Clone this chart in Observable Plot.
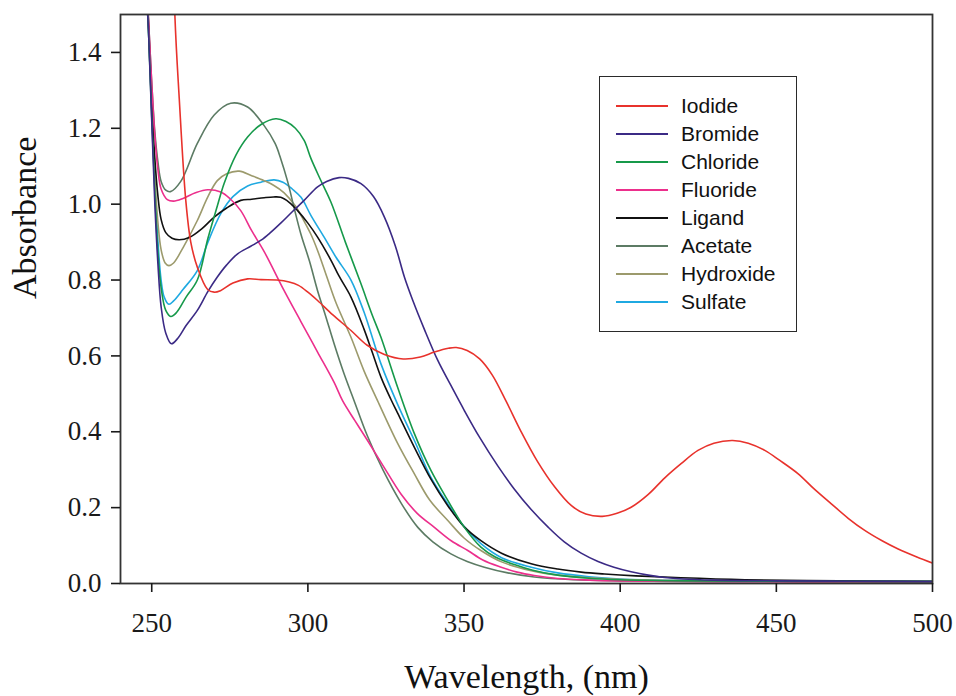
<!DOCTYPE html>
<html>
<head>
<meta charset="utf-8">
<script src="https://cdn.jsdelivr.net/npm/d3@7"></script>
<script src="https://cdn.jsdelivr.net/npm/@observablehq/plot@0.6"></script>
<style>
  html, body { margin: 0; padding: 0; background: #fff; }
  #wrap { position: relative; width: 956px; height: 696px; }
  #wrap svg text { font-family: "Liberation Serif", "Times New Roman", serif !important; font-variant-numeric: normal !important; }
  #legend { position: absolute; box-sizing: border-box; border: 1.6px solid #2a2a2a; background: #fff;
            font-family: "Liberation Sans", Arial, sans-serif; font-size: 21px; color: #111; }
  .row { position: absolute; left: 0; height: 28px; display: flex; align-items: center; }
  .swatch { display: inline-block; width: 52px; height: 0; border-top: 2px solid; margin-left: 16px; margin-right: 13px; }
  #warm { position: absolute; left: 0; top: 0; opacity: 0; font: 27px "Liberation Serif"; pointer-events: none; }
</style>
</head>
<body>
<div id="wrap"></div>
<div id="warm" aria-hidden="true">0123456789.</div>
<script>
// ---- Data (wavelength nm, absorbance) ----
const seriesNames = ["Iodide", "Bromide", "Chloride", "Fluoride", "Ligand", "Acetate", "Hydroxide", "Sulfate"];
const seriesColors = ["#e8322c", "#3b2a85", "#16994a", "#ec2f8c", "#111111", "#5c7b64", "#9c9a6c", "#1fa9e1"];
const xTicks = [250, 300, 350, 400, 450, 500];
const yTicks = [0, 0.2, 0.4, 0.6, 0.8, 1.0, 1.2, 1.4];

const iodide = [[255, 2.3], [257.4, 1.5], [258.8, 1.28], [260.9, 1.01], [262.5, 0.9], [264.6, 0.834], [267.9, 0.775],
  [270, 0.768], [272, 0.772], [276, 0.792], [280.7, 0.803], [285, 0.801], [290, 0.8], [294, 0.795], [297, 0.786],
  [300, 0.768], [303.1, 0.746], [308, 0.708], [313.8, 0.667], [319, 0.628], [324.5, 0.604], [330.5, 0.592],
  [336, 0.597], [340.5, 0.61], [345, 0.62], [347.5, 0.622], [351, 0.614], [355, 0.592], [359, 0.55], [363.5, 0.48],
  [368.3, 0.4], [373.5, 0.322], [379, 0.255], [384.4, 0.205], [389, 0.183], [394.3, 0.177], [399, 0.185], [403.5, 0.201],
  [409, 0.235], [414.2, 0.278], [419.5, 0.316], [424.9, 0.351], [430, 0.37], [436, 0.377], [441, 0.37],
  [446.3, 0.351], [451, 0.325], [457, 0.289], [462, 0.25], [467.6, 0.21], [473, 0.172], [478.3, 0.14],
  [484, 0.112], [489, 0.091], [495, 0.07], [500, 0.054]];

const bromide = [[246, 2.1], [247.5, 1.7], [249, 1.45], [250, 1.22], [251, 1.0], [252, 0.84], [253, 0.73], [254.5, 0.66],
  [256.3, 0.632], [258.5, 0.648], [261, 0.68], [264.6, 0.72], [268, 0.77], [271, 0.808], [274, 0.84], [277.5, 0.869],
  [281.7, 0.889], [285, 0.905], [288, 0.925], [291.3, 0.95], [295, 0.98], [298.8, 1.01], [303, 1.045], [306, 1.06],
  [310, 1.07], [313, 1.068], [317, 1.054], [321, 1.02], [324.5, 0.966], [328, 0.89], [330.9, 0.808], [333.6, 0.746],
  [337.3, 0.67], [341.6, 0.588], [345.8, 0.522], [350.1, 0.456], [355, 0.385], [360.8, 0.31], [366, 0.25],
  [371.5, 0.195], [377, 0.148], [382.1, 0.11], [387.5, 0.08], [392.9, 0.058], [398, 0.043], [403.5, 0.031],
  [409, 0.022], [414.2, 0.016], [420, 0.012], [430, 0.009], [450, 0.007], [475, 0.006], [500, 0.005]];

const chloride = [[246, 2.1], [247.5, 1.7], [249, 1.45], [250, 1.23], [251, 1.03], [252, 0.87], [253, 0.78], [254.5, 0.72],
  [256.1, 0.704], [258, 0.715], [261, 0.755], [264.6, 0.8], [268, 0.91], [271, 0.995], [273.2, 1.055], [277, 1.13],
  [280.7, 1.177], [285, 1.21], [289.7, 1.225], [293, 1.218], [296, 1.2], [298.8, 1.168], [301, 1.12], [304, 1.065],
  [307.4, 1.005], [312, 0.9], [317, 0.79], [320.5, 0.71], [323.4, 0.649], [328.7, 0.518], [334.1, 0.395],
  [339.4, 0.298], [344.8, 0.219], [350.1, 0.148], [355.4, 0.096], [360, 0.07], [366.1, 0.05], [372, 0.035],
  [380, 0.022], [390, 0.014], [400, 0.01], [420, 0.007], [450, 0.006], [500, 0.005]];

const fluoride = [[246, 2.2], [247.5, 1.75], [249, 1.48], [250, 1.32], [251, 1.18], [252, 1.09], [253, 1.04], [255, 1.012],
  [257, 1.008], [260, 1.015], [264, 1.03], [267.9, 1.038], [272.1, 1.032], [275, 1.015], [278.5, 0.983], [282, 0.93],
  [286, 0.875], [292.4, 0.772], [297.8, 0.69], [303.1, 0.61], [308.4, 0.53], [311.1, 0.482], [315, 0.43],
  [319.1, 0.377], [324.5, 0.305], [329.8, 0.236], [335, 0.185], [340.5, 0.148], [346, 0.112], [351.2, 0.087],
  [356, 0.062], [361.9, 0.043], [367, 0.03], [372.5, 0.021], [380, 0.013], [390, 0.009], [400, 0.007],
  [430, 0.005], [500, 0.004]];

const ligand = [[246, 2.2], [247.5, 1.75], [249, 1.47], [250, 1.28], [251, 1.12], [252, 1.02], [253, 0.96], [254.5, 0.925],
  [256.5, 0.91], [258.8, 0.906], [262, 0.912], [266, 0.935], [270, 0.966], [274, 0.99], [278.5, 1.01], [282, 1.013],
  [286, 1.017], [289, 1.019], [291.3, 1.018], [294, 1.005], [296.7, 0.983], [300, 0.95], [303.1, 0.913],
  [307.4, 0.852], [310, 0.81], [313.8, 0.755], [318, 0.67], [320.5, 0.612], [323.4, 0.544], [326.6, 0.485],
  [328.7, 0.45], [334.1, 0.359], [339.4, 0.275], [344.8, 0.205], [350, 0.15], [355.4, 0.113], [362, 0.08],
  [371.5, 0.052], [380, 0.038], [387.5, 0.03], [395, 0.025], [405, 0.02], [419.5, 0.015], [440, 0.01],
  [470, 0.007], [500, 0.006]];

const acetate = [[246, 2.2], [247.5, 1.75], [249, 1.48], [250, 1.32], [251, 1.19], [252, 1.11], [253, 1.06], [254.5, 1.037],
  [256, 1.033], [259.3, 1.06], [264.6, 1.16], [270, 1.235], [275.3, 1.266], [280.7, 1.256], [286, 1.207],
  [289.5, 1.16], [291.3, 1.12], [293.5, 1.06], [295.6, 0.99], [297.8, 0.92], [300.5, 0.85], [303.1, 0.772],
  [305.5, 0.71], [308.4, 0.632], [311.5, 0.555], [314.8, 0.482], [319, 0.39], [324, 0.3], [330, 0.21],
  [335.2, 0.148], [340, 0.11], [345.8, 0.078], [351, 0.058], [356.5, 0.043], [364, 0.028], [372.5, 0.017],
  [385, 0.01], [400, 0.007], [430, 0.005], [500, 0.004]];

const hydroxide = [[246, 2.1], [247.5, 1.72], [249, 1.45], [250, 1.25], [251, 1.07], [252, 0.95], [253, 0.88], [254.3, 0.845],
  [255.5, 0.838], [257, 0.845], [260, 0.885], [264.6, 0.957], [268, 1.02], [271, 1.062], [274, 1.08], [278, 1.087],
  [282, 1.075], [286, 1.062], [289, 1.05], [292.4, 1.03], [296, 0.995], [298.8, 0.955], [301, 0.92], [303.1, 0.878],
  [306, 0.81], [309, 0.74], [313.8, 0.649], [318, 0.56], [322.3, 0.482], [328.7, 0.37], [334.1, 0.289],
  [339, 0.22], [344.8, 0.166], [350, 0.12], [355.4, 0.087], [362, 0.057], [371.5, 0.034], [380, 0.022],
  [390, 0.015], [400, 0.011], [420, 0.008], [450, 0.006], [500, 0.005]];

const sulfate = [[246, 2.1], [247.5, 1.7], [249, 1.45], [250, 1.25], [251, 1.05], [252, 0.9], [253, 0.8], [254, 0.755],
  [255.5, 0.736], [257, 0.745], [260, 0.775], [264.6, 0.825], [268, 0.9], [272.1, 0.975], [276, 1.02], [280.7, 1.048],
  [285, 1.058], [289.2, 1.064], [292, 1.058], [295, 1.04], [297.8, 1.018], [301, 0.97], [305.2, 0.913], [309, 0.86],
  [313.8, 0.8], [318, 0.715], [323.4, 0.579], [328.7, 0.473], [334.1, 0.377], [339.4, 0.28], [344.8, 0.21],
  [350, 0.15], [355.4, 0.105], [362, 0.068], [371.5, 0.043], [380, 0.028], [390, 0.018], [400, 0.012],
  [420, 0.008], [450, 0.006], [500, 0.005]];

const seriesData = [iodide, bromide, chloride, fluoride, ligand, acetate, hydroxide, sulfate];

// long table built from the named arrays
const rows = [];
seriesNames.forEach((name, i) => {
  for (const [nm, a] of seriesData[i]) rows.push({series: name, nm, abs: a});
});

const drawOrder = ["Sulfate", "Hydroxide", "Acetate", "Ligand", "Fluoride", "Chloride", "Bromide", "Iodide"];
const serif = "Liberation Serif, Times New Roman, serif";

const chart = Plot.plot({
  width: 956,
  height: 696,
  marginLeft: 120,
  marginRight: 24,
  marginTop: 14,
  marginBottom: 113,
  style: {fontFamily: serif, background: "#fff", color: "#1a1a1a"},
  x: {domain: [240, 500]},
  y: {domain: [0, 1.5]},
  color: {domain: seriesNames, range: seriesColors},
  marks: [
    ...drawOrder.map(name => Plot.line(rows.filter(r => r.series === name), {
      x: "nm", y: "abs", stroke: "series", strokeWidth: 1.6, curve: "catmull-rom", clip: true
    })),
    Plot.frame({stroke: "#333", strokeWidth: 1.8}),
    Plot.axisX({ticks: xTicks, tickSize: 9, tickPadding: 20, fontSize: 27, fontVariant: "normal",
                tickFormat: d => String(d), label: null, strokeWidth: 1.6}),
    Plot.axisY({ticks: yTicks, tickSize: 9, tickPadding: 10, fontSize: 27, fontVariant: "normal",
                tickFormat: d3.format(".1f"), label: null, strokeWidth: 1.6}),
    Plot.text(["Absorbance"], {text: d => d, frameAnchor: "left", rotate: -90, dx: -95, fontSize: 34,
                lineAnchor: "middle", fill: "#111"}),
    Plot.text(["Wavelength, (nm)"], {text: d => d, frameAnchor: "bottom", dy: 94, fontSize: 34,
                lineAnchor: "middle", fill: "#111"})
  ]
});

d3.select(chart).selectAll("text").attr("font-family", serif);

const wrap = document.getElementById("wrap");
wrap.appendChild(chart);

// legend (in-plot box)
const legend = document.createElement("div");
legend.id = "legend";
legend.style.left = "599px";
legend.style.top = "76px";
legend.style.width = "198px";
legend.style.height = "256px";
seriesNames.forEach((name, i) => {
  const row = document.createElement("div");
  row.className = "row";
  row.style.top = (14.5 + i * 28.1) + "px";
  const sw = document.createElement("span");
  sw.className = "swatch";
  sw.style.borderTopColor = seriesColors[i];
  const label = document.createElement("span");
  label.textContent = name;
  row.appendChild(sw);
  row.appendChild(label);
  legend.appendChild(row);
});
wrap.appendChild(legend);
</script>
</body>
</html>
